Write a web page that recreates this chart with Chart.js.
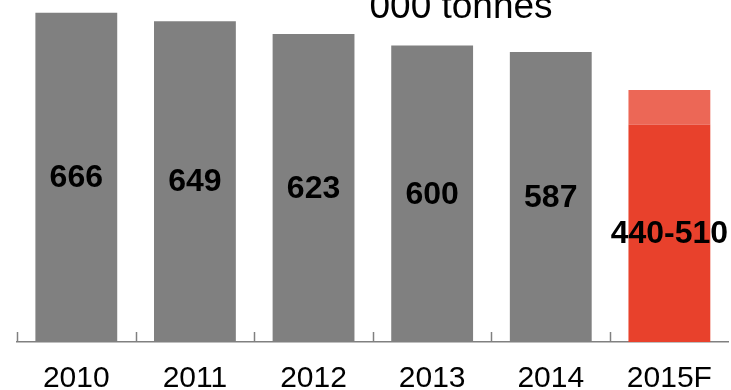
<!DOCTYPE html>
<html>
<head>
<meta charset="utf-8">
<script src="https://cdn.jsdelivr.net/npm/chart.js@4/dist/chart.umd.min.js"></script>
<style>
  html, body { margin: 0; padding: 0; background: #ffffff; }
  #wrap { width: 731px; height: 390px; position: relative; }
</style>
</head>
<body>
<div id="wrap"><canvas id="c" width="731" height="390"></canvas></div>
<script>
const categories = ['2010', '2011', '2012', '2013', '2014', '2015F'];
const volumes = [666, 649, 623, 600, 587, 440];
const forecastUpper = [null, null, null, null, null, 70]; // 510 - 440
const valueLabels = ['666', '649', '623', '600', '587', '440-510'];
const titleText = "'000 tonnes";

const GRAY = '#808080';
const RED = '#E8412C';
const LIGHT_RED = '#EC6756';

const valueLabelPlugin = {
  id: 'valueLabels',
  afterDatasetsDraw(chart) {
    const ctx = chart.ctx;
    const meta = chart.getDatasetMeta(0);
    ctx.save();
    ctx.fillStyle = '#000000';
    ctx.font = 'bold 32px "Liberation Sans", Arial, sans-serif';
    ctx.textAlign = 'center';
    ctx.textBaseline = 'middle';
    meta.data.forEach((bar, i) => {
      const p = bar.getProps(['x', 'y', 'base'], true);
      ctx.fillText(valueLabels[i], p.x, (p.y + p.base) / 2 + 1);
    });
    ctx.restore();
  }
};

const axisTicksPlugin = {
  id: 'axisTicks',
  afterDraw(chart) {
    const ctx = chart.ctx;
    const xs = chart.scales.x;
    const area = chart.chartArea;
    const n = categories.length;
    const step = (area.right - area.left) / n;
    ctx.save();
    ctx.strokeStyle = GRAY;
    ctx.lineWidth = 1.5;
    for (let i = 0; i < n; i++) {
      const px = Math.round(xs.getPixelForValue(i) - step / 2) + 0.5;
      ctx.beginPath();
      ctx.moveTo(px, area.bottom);
      ctx.lineTo(px, area.bottom - 10);
      ctx.stroke();
    }
    // title
    ctx.fillStyle = '#000000';
    ctx.font = '37px "Liberation Sans", Arial, sans-serif';
    ctx.textAlign = 'center';
    ctx.textBaseline = 'alphabetic';
    ctx.fillText(titleText, 457.5, 18);
    ctx.restore();
  }
};

new Chart(document.getElementById('c'), {
  type: 'bar',
  data: {
    labels: categories,
    datasets: [
      {
        data: volumes,
        backgroundColor: [GRAY, GRAY, GRAY, GRAY, GRAY, RED],
        borderWidth: 0,
        barPercentage: 0.69,
        categoryPercentage: 1.0
      },
      {
        data: forecastUpper,
        backgroundColor: LIGHT_RED,
        borderWidth: 0,
        barPercentage: 0.69,
        categoryPercentage: 1.0
      }
    ]
  },
  options: {
    responsive: false,
    animation: false,
    layout: { padding: { left: 17, right: 1, top: 0, bottom: 0 } },
    plugins: {
      legend: { display: false },
      tooltip: { enabled: false },
      title: { display: false }
    },
    scales: {
      x: {
        stacked: true,
        grid: { display: false, drawTicks: false },
        border: { display: true, color: GRAY, width: 1.5 },
        ticks: {
          color: '#000000',
          padding: 19,
          font: { family: '"Liberation Sans", Arial, sans-serif', size: 30 }
        },
        afterFit(scale) { scale.height = 48; }
      },
      y: {
        stacked: true,
        display: false,
        min: 0,
        max: 692
      }
    }
  },
  plugins: [valueLabelPlugin, axisTicksPlugin]
});
</script>
</body>
</html>
